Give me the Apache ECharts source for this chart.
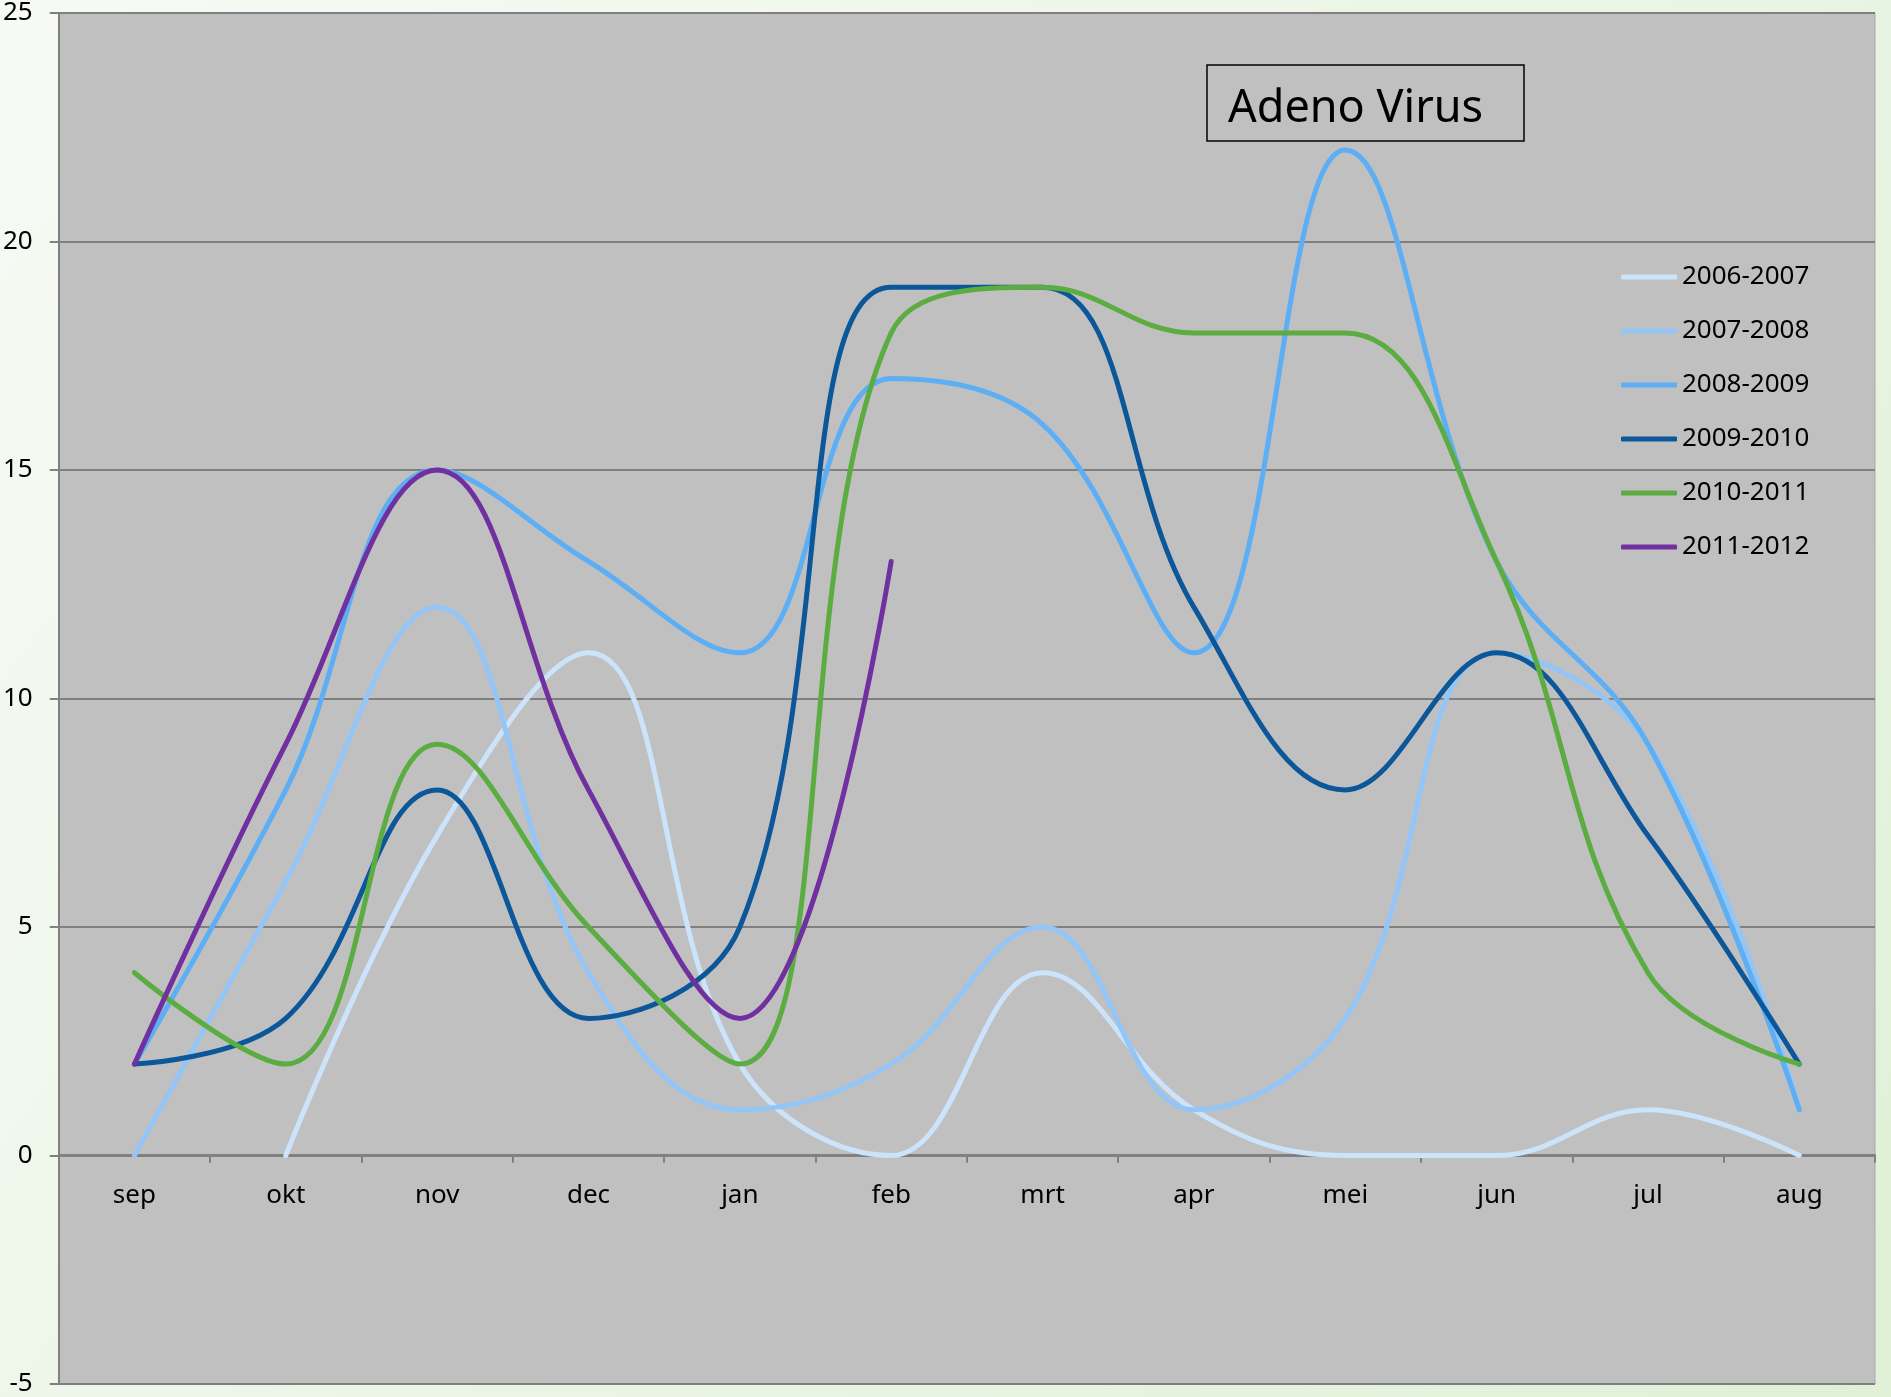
<!DOCTYPE html>
<html>
<head>
<meta charset="utf-8">
<title>Adeno Virus</title>
<script src="https://cdn.jsdelivr.net/npm/echarts@6/dist/echarts.min.js"></script>
<style>
    html,body{margin:0;padding:0;}
    #chart{width:1891px;height:1397px;}
</style>
</head>
<body>
<div id="chart"></div>
<script>
var months=['sep','okt','nov','dec','jan','feb','mrt','apr','mei','jun','jul','aug']
var seasons=['2006-2007','2007-2008','2008-2009','2009-2010','2010-2011','2011-2012']
var s0607=[null,0,7,11,2,0,4,1,0,0,1,0]
var s0708=[0,6,12,4,1,2,5,1,3,11,9,1]
var s0809=[2,8,15,13,11,17,16,11,22,13,9,1]
var s0910=[2,3,8,3,5,19,19,12,8,11,7,2]
var s1011=[4,2,9,5,2,18,19,18,18,13,4,2]
var s1112=[2,9,15,8,3,13,null,null,null,null,null,null]
var colors=['#cbe3fb','#93c6f6','#5caef5','#0b5799','#5bac41','#7030a0']

var font='Noto Sans'
var values=[s0607,s0708,s0809,s0910,s1011,s1112]

// grid: 1375px tall for 30 units, the x axis sits on 0 (5 units above the bottom)
var gridTop=12, gridBottom=10
var zeroOffset=-(1397-gridTop-gridBottom)*5/30

var series=[]
for(var i=0;i<seasons.length;i++){
    series.push({
        name:seasons[i],
        type:'line',
        data:values[i],
        smooth:0.4,
        symbol:'none',
        lineStyle:{color:colors[i],width:5,cap:'round'},
        itemStyle:{color:colors[i]}
    })
}

var mychart=echarts.init(document.getElementById('chart'))
var option={
    backgroundColor:{
        type:'linear',x:0,y:0,x2:1,y2:1,
        colorStops:[{offset:0,color:'#f7faf5'},{offset:1,color:'#e0f1d7'}]
    },
    animation:false,
    title:{
        text:'Adeno Virus',
        left:1207,
        top:65,
        borderColor:'#000',
        borderWidth:1.5,
        padding:[19,41,7,21],
        textStyle:{fontFamily:font,fontSize:45,fontWeight:'normal',color:'#000',lineHeight:50}
    },
    legend:{
        orient:'vertical',
        left:1616,
        top:257,
        icon:'roundRect',
        itemWidth:56,
        itemHeight:5,
        itemGap:24,
        textStyle:{fontFamily:font,fontSize:26,color:'#000',lineHeight:30},
        data:seasons
    },
    grid:{
        left:55,right:16,top:gridTop,bottom:gridBottom,
        show:true,
        backgroundColor:'#c0c0c0',
        borderColor:'#a8a8a8',
        borderWidth:1,
        containLabel:false
    },
    xAxis:{
        type:'category',
        data:months,
        boundaryGap:true,
        position:'bottom',
        offset:zeroOffset,
        axisLine:{onZero:false,lineStyle:{color:'#808080',width:2}},
        axisTick:{show:true,length:8,lineStyle:{color:'#808080',width:2}},
        axisLabel:{fontFamily:font,fontSize:26,color:'#000',margin:28}
    },
    yAxis:{
        type:'value',
        min:-5,
        max:25,
        interval:5,
        axisLine:{show:true,lineStyle:{color:'#808080',width:2}},
        axisTick:{show:true,length:9,lineStyle:{color:'#808080',width:2}},
        axisLabel:{fontFamily:font,fontSize:26,color:'#000',margin:26},
        splitLine:{show:true,lineStyle:{color:'#808080',width:2}}
    },
    series:series
}
mychart.setOption(option)
</script>
</body>
</html>
